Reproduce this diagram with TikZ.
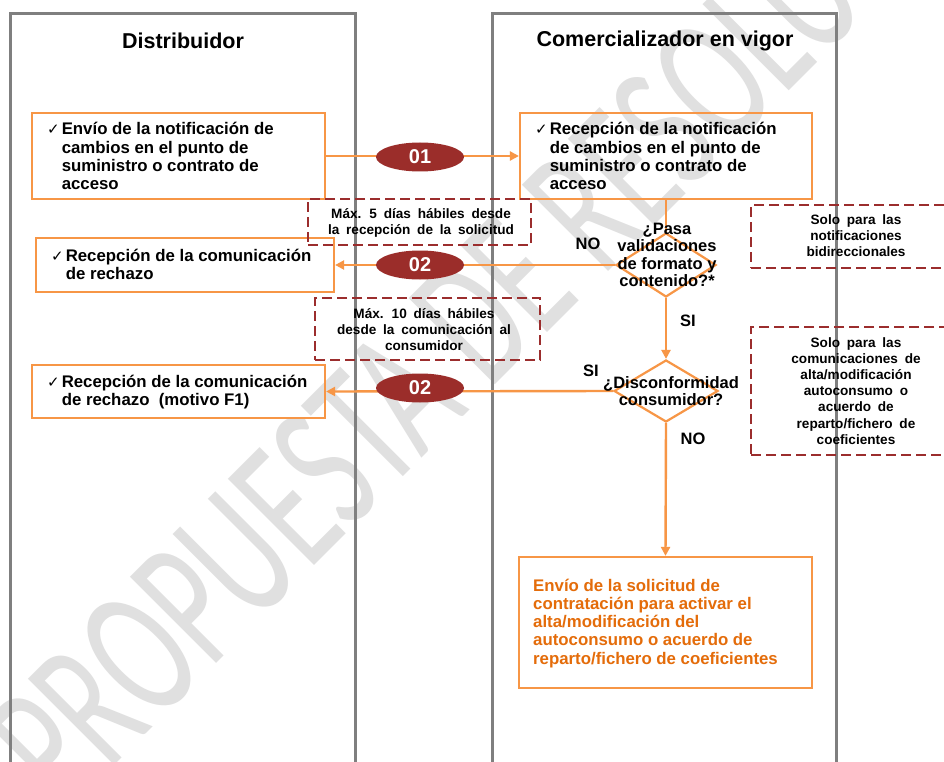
\documentclass[tikz,border=0pt]{standalone}
\usepackage{fontspec}
\setmainfont{Liberation Sans}
\newfontfamily\dejavu{DejaVu Sans}
\newfontfamily\wmfont{Carlito}
\usetikzlibrary{shapes.geometric,arrows.meta}
\definecolor{lanegray}{HTML}{7F7F7F}
\definecolor{boxorange}{HTML}{F79646}
\definecolor{txtorange}{HTML}{E46C0A}
\definecolor{darkred}{HTML}{9B2D2A}
\definecolor{dashred}{HTML}{9B2D2D}
\definecolor{wmgray}{HTML}{E0E0E0}
\newcommand{\ck}{{\dejavu\fontsize{15}{15}\selectfont ✓}}
\newcommand{\notefont}{\bfseries\fontsize{13.6}{16.2}\selectfont\spaceskip=0.5em\relax}
\begin{document}
\begin{tikzpicture}[x=1pt,y=-1pt,
  lane/.style={draw=lanegray,line width=3pt},
  procbox/.style={draw=boxorange,line width=2.2pt,inner sep=0pt},
  decbox/.style={diamond,draw=boxorange,line width=2.2pt,inner sep=0pt,aspect=1.6},
  notebox/.style={draw=dashred,line width=1.4pt,dash pattern=on 10pt off 5pt,inner sep=0pt},
  flow/.style={draw=boxorange,line width=2.4pt,-{Triangle[length=9pt,width=9pt]}},
  plainflow/.style={draw=boxorange,line width=2.4pt},
  stepnum/.style={ellipse,fill=darkred,minimum width=88pt,minimum height=29pt,inner sep=0pt,text=white,font=\bfseries\fontsize{20}{20}\selectfont},
  boxtext/.style={anchor=base west,inner sep=0pt,font=\bfseries\fontsize{16.8}{18.3}\selectfont},
  notetext/.style={anchor=base,inner sep=0pt,font=\notefont},
  dectext/.style={anchor=base,inner sep=0pt,font=\bfseries\fontsize{16.5}{17.6}\selectfont},
  lanetitle/.style={inner sep=0pt,font=\bfseries\fontsize{21.5}{22}\selectfont},
  answer/.style={anchor=base,inner sep=0pt,font=\bfseries\fontsize{16.5}{17}\selectfont},
  wm/.style={inner sep=0pt,text=wmgray,font=\wmfont\fontsize{190}{190}\selectfont}]
\useasboundingbox (0,0) rectangle (944,762);
\clip (0,0) rectangle (944,762);
\fill[white] (0,0) rectangle (944,762);
% watermark
\node[wm,rotate=45,xscale=0.63,anchor=base west] (wmark) at (65,815) {PROPUESTA DE RESOLUCIÓN};
% lanes
\draw[lane] (10,790) -- (10,14) -- (355,14) -- (355,790);
\draw[lane] (492,790) -- (492,14) -- (836,14) -- (836,790);
\node[lanetitle] (t1) at (183,41) {Distribuidor};
\node[lanetitle] (t2) at (665,41) {Comercializador en vigor};
% process boxes
\node[procbox,minimum width=293pt,minimum height=86pt] (b1) at (178.5,156) {};
\node[procbox,minimum width=292pt,minimum height=86pt] (b2) at (666,156) {};
\node[procbox,minimum width=298pt,minimum height=54pt] (b3) at (185,265) {};
\node[procbox,minimum width=293pt,minimum height=53pt] (b4) at (178.5,391.5) {};
\node[procbox,minimum width=293pt,minimum height=131pt] (b5) at (665.5,622.5) {};
% decisions
\node[decbox,minimum width=100pt,minimum height=64pt] (d1) at (666,265) {};
\node[decbox,minimum width=104pt,minimum height=62pt] (d2) at (666,391) {};
% notes
\node[notebox,minimum width=223pt,minimum height=46pt] (n1) at (419.5,222) {};
\node[notebox,minimum width=225pt,minimum height=62pt] (n2) at (427.5,329) {};
\node[notebox,minimum width=200pt,minimum height=63pt] (n3) at (851,236.5) {};
\node[notebox,minimum width=200pt,minimum height=128pt] (n4) at (851,391) {};
% connectors
\draw[flow] (b1.east) -- (b2.west);
\draw[plainflow] (b2.south) -- (d1.north);
\draw[flow] (d1.west) -- (b3.east);
\draw[flow] (d1.south) -- (d2.north);
\draw[flow] (d2.west) -- (b4.east);
\draw[flow] (d2.south) -- (b5.north);
% step numbers
\node[stepnum] (s1) at (420,157) {01};
\node[stepnum] (s2) at (420,265) {02};
\node[stepnum] (s3) at (420,388) {02};
% box texts
\node[boxtext] (x1) at (47,135) {\begin{tabular}[t]{@{}l@{\hspace{2pt}}l@{}}\ck & Envío de la notificación de\\ & cambios en el punto de\\ & suministro o contrato de\\ & acceso\end{tabular}};
\node[boxtext] (x2) at (535,135) {\begin{tabular}[t]{@{}l@{\hspace{2pt}}l@{}}\ck & Recepción de la notificación\\ & de cambios en el punto de\\ & suministro o contrato de\\ & acceso\end{tabular}};
\node[boxtext] (x3) at (51,261) {\begin{tabular}[t]{@{}l@{\hspace{2pt}}l@{}}\ck & Recepción de la comunicación\\ & de rechazo\end{tabular}};
\node[boxtext] (x4) at (47,387) {\begin{tabular}[t]{@{}l@{\hspace{2pt}}l@{}}\ck & Recepción de la comunicación\\ & de rechazo\ \ (motivo F1)\end{tabular}};
\node[boxtext,text=txtorange] (x5) at (533,591) {\begin{tabular}[t]{@{}l@{}}Envío de la solicitud de\\ contratación para activar el\\ alta/modificación del\\ autoconsumo o acuerdo de\\ reparto/fichero de coeficientes\end{tabular}};
% decision texts
\node[dectext] (q1) at (667,234) {\begin{tabular}[t]{@{}c@{}}¿Pasa\\ validaciones\\ de formato y\\ contenido?*\end{tabular}};
\node[dectext] (q2) at (671,388) {\begin{tabular}[t]{@{}c@{}}¿Disconformidad\\ consumidor?\end{tabular}};
% answers
\node[answer] (a1) at (588,249) {NO};
\node[answer] (a2) at (688,326) {SI};
\node[answer] (a3) at (591,376) {SI};
\node[answer] (a4) at (693,444) {NO};
% note texts
\node[notetext] (m1) at (421,218) {\begin{tabular}[t]{@{}c@{}}Máx. 5 días hábiles desde\\ la recepción de la solicitud\end{tabular}};
\node[notetext] (m2) at (424,318) {\begin{tabular}[t]{@{}c@{}}Máx. 10 días hábiles\\ desde la comunicación al\\ consumidor\end{tabular}};
\node[notetext] (m3) at (856,224) {\begin{tabular}[t]{@{}c@{}}Solo para las\\ notificaciones\\ bidireccionales\end{tabular}};
\node[notetext] (m4) at (856,347) {\begin{tabular}[t]{@{}c@{}}Solo para las\\ comunicaciones de\\ alta/modificación\\ autoconsumo o\\ acuerdo de\\ reparto/fichero de\\ coeficientes\end{tabular}};
\end{tikzpicture}
\end{document}
